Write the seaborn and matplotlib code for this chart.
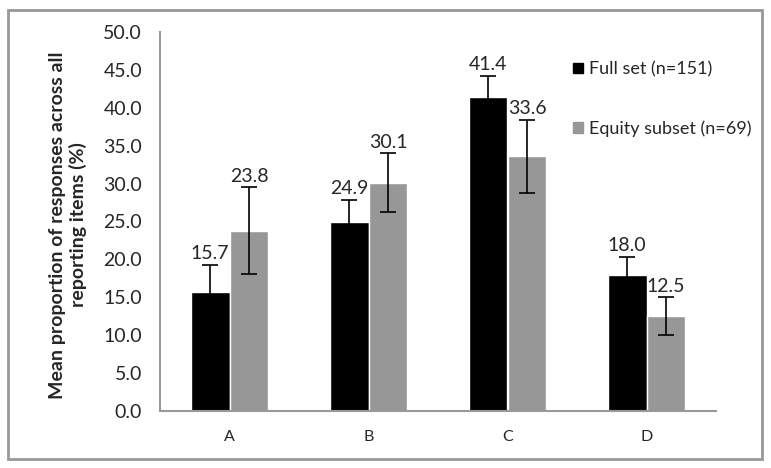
import numpy as np
import matplotlib.pyplot as plt
import pandas as pd
import seaborn as sns
from matplotlib.patches import Rectangle

# data
categories = ["A", "B", "C", "D"]
series = ["Full set (n=151)", "Equity subset (n=69)"]
full_vals = [15.7, 24.9, 41.4, 18.0]
equity_vals = [23.8, 30.1, 33.6, 12.5]
full_err = [3.6, 2.9, 2.8, 2.3]
equity_err = [5.7, 3.9, 4.8, 2.5]
ylabel_lines = ["Mean proportion of responses across all", "reporting items (%)"]

df = pd.DataFrame({
    "category": categories * 2,
    "series": [series[0]] * 4 + [series[1]] * 4,
    "value": full_vals + equity_vals,
    "err": full_err + equity_err,
})

sns.set_style("white")
plt.rcParams["font.family"] = ["Lato", "DejaVu Sans"]

fig = plt.figure(figsize=(7.71, 4.68), dpi=100)
ax = fig.add_axes([160 / 771, 1 - 411 / 468, 556 / 771, 379 / 468])

sns.barplot(data=df, x="category", y="value", hue="series",
            palette=["#000000", "#979797"], width=0.56, saturation=1,
            errorbar=None, legend=False, ax=ax)

# error bars + value labels from the bar patches
for cont, s in zip(ax.containers, series):
    sub = df[df["series"] == s]
    xs = [p.get_x() + p.get_width() / 2 for p in cont]
    ax.errorbar(xs, sub["value"], yerr=sub["err"], fmt="none",
                ecolor="black", elinewidth=1.2, capsize=5.5, capthick=1.2)
    for x, v, e in zip(xs, sub["value"], sub["err"]):
        ax.annotate(f"{v:.1f}", (x, v + e), xytext=(0, 2),
                    textcoords="offset points", ha="center", va="bottom",
                    fontsize=14)

ax.set_xlim(-0.5, 3.5)
ax.set_ylim(0, 50)
ax.set_yticks(np.arange(0, 50.1, 5))
ax.set_yticklabels([f"{t:.1f}" for t in np.arange(0, 50.1, 5)], fontsize=14)
ax.set_xticks(range(4))
ax.set_xticklabels(categories, fontsize=11.5)
ax.set_xticks(np.arange(-0.5, 3.6, 1), minor=True)
ax.tick_params(axis="x", which="major", length=0, pad=14)
ax.tick_params(axis="x", which="minor", length=5, width=1.5, color="#999999", direction="out")
ax.tick_params(axis="y", length=5, width=1.5, color="#999999", direction="out", pad=8)
ax.set_xlabel("")
ax.set_ylabel("")
# two-line y label, each line centred on the same point
for xpx, line in zip([58, 78], ylabel_lines):
    fig.text(xpx / 771, 1 - 225 / 468, line, rotation=90, ha="center",
             va="center", fontsize=14, fontweight="bold")

for sp in ["top", "right"]:
    ax.spines[sp].set_visible(False)
for sp in ["left", "bottom"]:
    ax.spines[sp].set_color("#999999")
    ax.spines[sp].set_linewidth(1.5)

# legend
handles = [Rectangle((0, 0), 1, 1, color=c) for c in ["#000000", "#979797"]]
fig.legend(handles, series, loc="upper left", bbox_to_anchor=(566 / 771, 1 - 54 / 468),
           frameon=False, fontsize=13, handlelength=0.55, handleheight=0.55,
           handletextpad=0.3, labelspacing=2.4, borderaxespad=0)

# outer chart border
fig.patches.append(Rectangle((8 / 771, 1 - 459 / 468), 754 / 771, 449 / 468,
                             transform=fig.transFigure, fill=False,
                             edgecolor="#999999", linewidth=2))

fig.savefig("out.png", dpi=100)
